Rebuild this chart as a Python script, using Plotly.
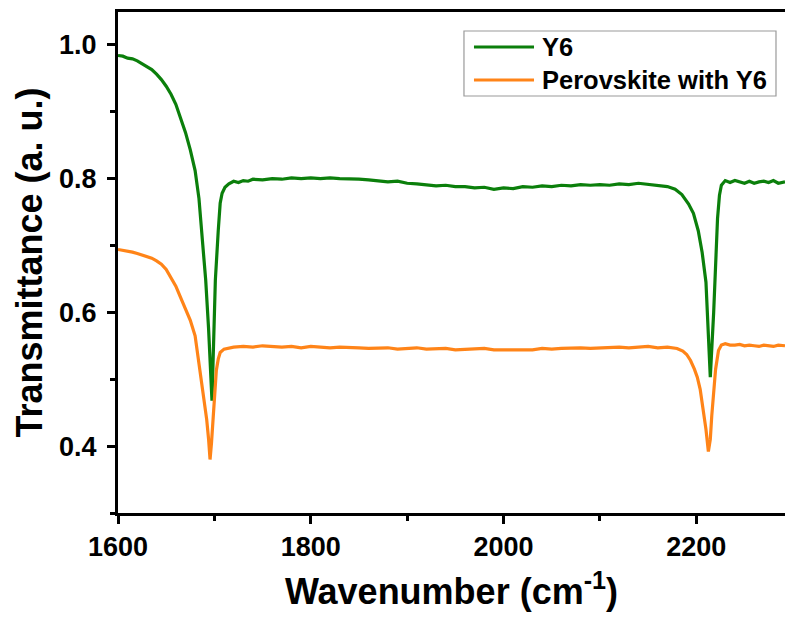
import plotly.graph_objects as go

# FTIR transmittance spectra, wavenumber in cm^-1
wn_y6 = [1600, 1605, 1610, 1615, 1620, 1625, 1630, 1635, 1640, 1645, 1650, 1655, 1660,
         1665, 1670, 1675, 1680, 1684, 1686, 1688, 1691, 1694, 1697.5, 1701, 1704, 1706,
         1708, 1711, 1715, 1720, 1725, 1730, 1735, 1740, 1750, 1760, 1770, 1780, 1790,
         1800, 1810, 1820, 1830, 1840, 1850, 1860, 1870, 1880, 1890, 1900, 1910, 1920,
         1930, 1940, 1950, 1960, 1970, 1980, 1990, 2000, 2010, 2020, 2030, 2040, 2050,
         2060, 2070, 2080, 2090, 2100, 2110, 2120, 2130, 2140, 2150, 2160, 2170, 2178,
         2185, 2192, 2197, 2202, 2206, 2210, 2214.5, 2218, 2220, 2222, 2224, 2226, 2230,
         2235, 2240, 2245, 2250, 2255, 2260, 2265, 2270, 2275, 2280, 2285, 2292]
t_y6 = [0.984, 0.983, 0.980, 0.979, 0.976, 0.972, 0.967, 0.963, 0.956, 0.948, 0.938, 0.926,
        0.911, 0.891, 0.869, 0.843, 0.812, 0.770, 0.730, 0.700, 0.648, 0.575, 0.468, 0.648,
        0.722, 0.763, 0.778, 0.787, 0.792, 0.796, 0.794, 0.797, 0.796, 0.799, 0.798, 0.800,
        0.799, 0.801, 0.800, 0.801, 0.800, 0.801, 0.800, 0.800, 0.799, 0.798, 0.797, 0.795,
        0.796, 0.793, 0.792, 0.791, 0.789, 0.790, 0.788, 0.788, 0.786, 0.787, 0.784, 0.786,
        0.785, 0.788, 0.787, 0.789, 0.788, 0.790, 0.789, 0.791, 0.790, 0.791, 0.790, 0.792,
        0.791, 0.793, 0.791, 0.790, 0.788, 0.784, 0.776, 0.762, 0.748, 0.722, 0.690, 0.645,
        0.503, 0.600, 0.680, 0.740, 0.775, 0.790, 0.797, 0.794, 0.797, 0.795, 0.793, 0.796,
        0.793, 0.795, 0.796, 0.794, 0.797, 0.793, 0.795]

wn_pvk = [1600, 1605, 1610, 1615, 1620, 1625, 1630, 1635, 1640, 1645, 1650, 1655, 1660,
          1665, 1670, 1675, 1680, 1683, 1686, 1688, 1690, 1692, 1694, 1695.5, 1697, 1698.5,
          1700, 1702, 1704, 1706, 1710, 1715, 1720, 1730, 1740, 1750, 1760, 1770, 1780,
          1790, 1800, 1810, 1820, 1830, 1840, 1850, 1860, 1870, 1880, 1890, 1900, 1910,
          1920, 1930, 1940, 1950, 1960, 1970, 1980, 1990, 2000, 2010, 2020, 2030, 2040,
          2050, 2060, 2070, 2080, 2090, 2100, 2110, 2120, 2130, 2140, 2150, 2160, 2170,
          2180, 2186, 2190, 2194, 2198, 2201, 2204, 2207.5, 2210, 2212.5, 2214.5, 2216, 2218,
          2220, 2223, 2226, 2230, 2235, 2240, 2245, 2250, 2255, 2260, 2265, 2270, 2275,
          2280, 2285, 2292]
t_pvk = [0.694, 0.693, 0.691, 0.690, 0.688, 0.686, 0.683, 0.681, 0.677, 0.672, 0.664, 0.652,
         0.639, 0.622, 0.606, 0.588, 0.565, 0.533, 0.508, 0.488, 0.466, 0.440, 0.410, 0.380,
         0.405, 0.443, 0.475, 0.513, 0.530, 0.540, 0.545, 0.547, 0.548, 0.549, 0.548, 0.550,
         0.549, 0.548, 0.549, 0.547, 0.549, 0.548, 0.547, 0.548, 0.548, 0.547, 0.546, 0.547,
         0.547, 0.545, 0.546, 0.547, 0.545, 0.546, 0.546, 0.544, 0.545, 0.546, 0.546, 0.544,
         0.544, 0.545, 0.545, 0.544, 0.546, 0.545, 0.546, 0.547, 0.547, 0.546, 0.547, 0.548,
         0.548, 0.547, 0.548, 0.549, 0.547, 0.548, 0.546, 0.542, 0.537, 0.528, 0.515, 0.503,
         0.485, 0.453, 0.425, 0.392, 0.410, 0.445, 0.480, 0.515, 0.543, 0.551, 0.553, 0.551,
         0.551, 0.552, 0.550, 0.551, 0.550, 0.549, 0.551, 0.550, 0.549, 0.551, 0.550]

series_names = ["Y6", "Perovskite with Y6"]
series_colors = ["#0b7f0b", "#ff8418"]

x_ticks = [1600, 1800, 2000, 2200]
y_ticks = [0.4, 0.6, 0.8, 1.0]

FONT = "Liberation Sans, Arial, sans-serif"

fig = go.Figure()
for wn, t, name, color in [(wn_y6, t_y6, series_names[0], series_colors[0]),
                           (wn_pvk, t_pvk, series_names[1], series_colors[1])]:
    fig.add_trace(go.Scatter(x=wn, y=t, mode="lines", name=name,
                             line=dict(color=color, width=3.2), showlegend=False))

axis_common = dict(
    showline=True, linecolor="black", linewidth=3,
    ticks="outside", ticklen=8, tickwidth=2.5, tickcolor="black",
    showgrid=False, zeroline=False,
    tickfont=dict(family=FONT, size=27, color="black", weight="bold"),
)

fig.update_layout(
    width=785, height=619,
    margin=dict(l=118, r=0, t=12, b=106),
    paper_bgcolor="white", plot_bgcolor="white",
    xaxis=dict(
        range=[1600, 2292], tickvals=x_ticks, mirror=True,
        minor=dict(dtick=100, tick0=1600, ticklen=5, tickwidth=2.5,
                   tickcolor="black", ticks="outside", showgrid=False),
        title=dict(text="Wavenumber (cm<sup>-1</sup>)", standoff=18,
                   font=dict(family=FONT, size=36, color="black", weight="bold")),
        **axis_common,
    ),
    yaxis=dict(
        range=[0.3, 1.049], tickvals=y_ticks, tickformat=".1f", mirror=False,
        ticklabelstandoff=5,
        minor=dict(dtick=0.1, tick0=0.3, ticklen=5, tickwidth=2.5,
                   tickcolor="black", ticks="outside", showgrid=False),
        title=dict(text="Transmittance (a. u.)", standoff=6,
                   font=dict(family=FONT, size=36, color="black", weight="bold")),
        **axis_common,
    ),
)

# Legend box drawn in paper coordinates
lx0, lx1, ly0, ly1 = 0.5187, 0.9865, 0.8323, 0.9621
fig.add_shape(type="rect", xref="paper", yref="paper", x0=lx0, x1=lx1, y0=ly0, y1=ly1,
              line=dict(color="#9a9a9a", width=1.2), fillcolor="white")
row_y = [0.9301, 0.8643]
for ry, name, color in zip(row_y, series_names, series_colors):
    fig.add_shape(type="line", xref="paper", yref="paper", x0=0.5337, x1=0.6237,
                  y0=ry, y1=ry, line=dict(color=color, width=3))
    fig.add_annotation(xref="paper", yref="paper", x=0.632, y=ry, text=name,
                       showarrow=False, xanchor="left", yanchor="middle",
                       font=dict(family=FONT, size=25.5, color="black", weight="bold"))

fig.write_html("out.html")
